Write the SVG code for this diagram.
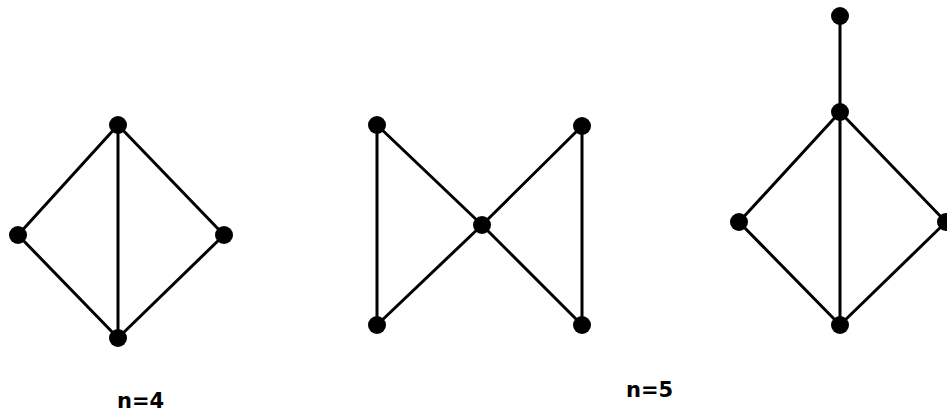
<svg xmlns="http://www.w3.org/2000/svg" width="947" height="414" viewBox="0 0 947 414">
<style>
.e{stroke:#000;stroke-width:3;fill:none;stroke-linecap:round}
.n{fill:#000}
.t{font-family:"DejaVu Sans",sans-serif;font-weight:bold;font-size:21px;fill:#000}
</style>
<rect width="947" height="414" fill="#fff"/>
<g id="edges">
<line class="e" x1="118" y1="125" x2="18" y2="235"/>
<line class="e" x1="118" y1="125" x2="224" y2="235"/>
<line class="e" x1="118" y1="125" x2="118" y2="338"/>
<line class="e" x1="18" y1="235" x2="118" y2="338"/>
<line class="e" x1="224" y1="235" x2="118" y2="338"/>
<line class="e" x1="377" y1="125" x2="377" y2="325"/>
<line class="e" x1="377" y1="125" x2="482" y2="225"/>
<line class="e" x1="377" y1="325" x2="482" y2="225"/>
<line class="e" x1="582" y1="126" x2="482" y2="225"/>
<line class="e" x1="582" y1="325" x2="482" y2="225"/>
<line class="e" x1="582" y1="126" x2="582" y2="325"/>
<line class="e" x1="840" y1="16" x2="840" y2="112"/>
<line class="e" x1="840" y1="112" x2="739" y2="222"/>
<line class="e" x1="840" y1="112" x2="946" y2="222"/>
<line class="e" x1="840" y1="112" x2="840" y2="325"/>
<line class="e" x1="739" y1="222" x2="840" y2="325"/>
<line class="e" x1="946" y1="222" x2="840" y2="325"/>
</g>
<g id="g1a"><circle class="n" cx="118" cy="125" r="9"/></g>
<g id="g1b"><circle class="n" cx="18" cy="235" r="9"/></g>
<g id="g1c"><circle class="n" cx="224" cy="235" r="9"/></g>
<g id="g1d"><circle class="n" cx="118" cy="338" r="9"/></g>
<g id="g2a"><circle class="n" cx="377" cy="125" r="9"/></g>
<g id="g2b"><circle class="n" cx="377" cy="325" r="9"/></g>
<g id="g2c"><circle class="n" cx="482" cy="225" r="9"/></g>
<g id="g2d"><circle class="n" cx="582" cy="126" r="9"/></g>
<g id="g2e"><circle class="n" cx="582" cy="325" r="9"/></g>
<g id="g3a"><circle class="n" cx="840" cy="16" r="9"/></g>
<g id="g3b"><circle class="n" cx="840" cy="112" r="9"/></g>
<g id="g3c"><circle class="n" cx="739" cy="222" r="9"/></g>
<g id="g3d"><circle class="n" cx="946" cy="222" r="9"/></g>
<g id="g3e"><circle class="n" cx="840" cy="325" r="9"/></g>
<g id="labels">
<text class="t" x="117" y="408">n=4</text>
<text class="t" x="626" y="397">n=5</text>
</g>
</svg>
